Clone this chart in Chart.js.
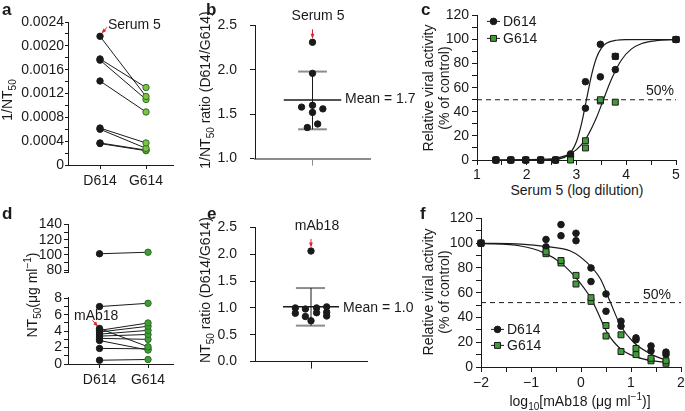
<!DOCTYPE html>
<html>
<head>
<meta charset="utf-8">
<script src="https://cdn.jsdelivr.net/npm/chart.js@4.4.0/dist/chart.umd.min.js"></script>
<style>
  body { margin: 0; width: 685px; height: 411px; background: #fff; position: relative; overflow: hidden;
         font-family: "Liberation Sans", Arial, sans-serif; color: #1a1a1a; }
  canvas { position: absolute; z-index: 1; }
  .t { position: absolute; white-space: nowrap; font-size: 14px; line-height: 1; z-index: 2; }
  .lab { font-weight: bold; font-size: 17px; }
  .rot { transform: translate(-50%, -50%) rotate(-90deg); }
  .mid { transform: translateY(-50%); }
  .ctr { transform: translate(-50%, -50%); }
  sub, sup { font-size: 10px; }
</style>
</head>
<body>
<div class="t lab" style="left:2px;top:1px">a</div>
<div class="t lab" style="left:206px;top:1px">b</div>
<div class="t lab" style="left:421px;top:1px">c</div>
<div class="t lab" style="left:2px;top:205px">d</div>
<div class="t lab" style="left:207px;top:205px">e</div>
<div class="t lab" style="left:420px;top:205px">f</div>

<div class="t rot" style="left:9px;top:100px">1/NT<sub>50</sub></div>
<div class="t rot" style="left:207px;top:90px">1/NT<sub>50</sub> ratio (D614/G614)</div>
<div class="t rot" style="left:428px;top:88px">Relative viral activity</div>
<div class="t rot" style="left:444px;top:88px">(% of control)</div>
<div class="t ctr" style="left:577px;top:190px">Serum 5 (log dilution)</div>

<div class="t rot" style="left:33px;top:295px">NT<sub>50</sub>(μg ml<sup>−1</sup>)</div>
<div class="t rot" style="left:207px;top:290px">NT<sub>50</sub> ratio (D614/G614)</div>
<div class="t rot" style="left:428px;top:292px">Relative viral activity</div>
<div class="t rot" style="left:444px;top:292px">(% of control)</div>
<div class="t ctr" style="left:580px;top:402px">log<sub>10</sub>[mAb18 (μg ml<sup>−1</sup>)]</div>

<div class="t mid" style="left:108px;top:24px">Serum 5</div>
<div class="t ctr" style="left:318px;top:15px">Serum 5</div>
<div class="t mid" style="left:345px;top:98px">Mean = 1.7</div>
<div class="t mid" style="left:646px;top:90px">50%</div>
<div class="t mid" style="left:74px;top:315px">mAb18</div>
<div class="t ctr" style="left:317px;top:225px">mAb18</div>
<div class="t mid" style="left:343px;top:307px">Mean = 1.0</div>
<div class="t mid" style="left:643px;top:294px">50%</div>

<script>
// ---- data ----
// a: 1/NT50 per serum
var aD614 = [0.00216, 0.00178, 0.00176, 0.00141, 0.00062, 0.00060, 0.00037, 0.00036];
var aG614 = [0.00115, 0.00130, 0.00110, 0.00089, 0.00037, 0.00028, 0.00025, 0.00024];

// b: ratio D614/G614
var bRatio = [2.31, 1.96, 1.58, 1.60, 1.52, 1.56, 1.39, 1.35];
var bSpread = [0, 0, -0.19, 0, 0, 0.18, 0.09, -0.09];
var bMean = 1.66, bLow = 1.33, bHigh = 1.98;

// c: serum 5 neutralisation
var cDil = [1.38, 1.68, 1.98, 2.28, 2.58, 2.88, 3.18, 3.48, 3.78, 5.0];
var cD614a = [0, 0, 0, 0, 0, 5, 65, 96, 75, 100];
var cD614b = [0, 0, 0, 0, 0, 3, 43, 69, 86, 100];
var cG614a = [0, 0, 0, 0, 0, 0, 16, 50, 48, 100];
var cG614b = [0, 0, 0, 0, 0, 3, 10, 49, 86, 100];
var cFitDx = [1.38, 2.4, 2.67, 2.8, 2.9, 3.0, 3.1, 3.2, 3.3, 3.4, 3.5, 3.6, 3.8, 4.0, 5.0];
var cFitDy = [0, 0.1, 1.1, 3.2, 7.2, 15.4, 30, 50, 70, 84.6, 92.8, 96.8, 99.4, 99.9, 100];
var cFitGx = [1.38, 2.4, 2.6, 2.8, 3.0, 3.2, 3.4, 3.54, 3.7, 3.9, 4.1, 4.3, 4.6, 5.0];
var cFitGy = [0, 0.7, 1.6, 3.8, 8.6, 18.4, 35, 50, 66.8, 82.8, 92, 96.5, 99, 99.8];
var cHalf = 50;

// d: NT50 (ug/ml) per antibody
var dD614Top = [101.5], dG614Top = [103.5];
var dD614 = [7.0, 4.33, 4.1, 3.9, 3.64, 3.4, 3.13, 2.86, 1.9, 0.46];
var dG614 = [7.4, 2.1, 5.0, 4.6, 4.1, 3.6, 3.0, 1.7, 1.85, 0.55];

// e: ratio D614/G614
var eRatio = [2.06, 1.00, 0.98, 1.00, 1.02, 0.90, 0.91, 0.92, 0.84, 0.85, 0.76];
var eSpread = [0, -0.28, -0.10, 0.10, 0.28, -0.28, 0.10, 0.28, -0.10, 0.28, 0];
var eMean = 1.02, eLow = 0.67, eHigh = 1.37;

// f: mAb18 neutralisation
var fDose = [-2, -0.7, -0.4, -0.1, 0.2, 0.5, 0.8, 1.1, 1.4, 1.7];
var fD614a = [100, 103, 115, 108, 80, 59, 37, 23.5, 17, 12];
var fD614b = [100, 97, 106, 102, 69, 45, 33, 22, 13, 10];
var fG614a = [100, 93, 86, 74, 56, 33.5, 26, 15, 7, 5];
var fG614b = [100, 91.5, 84, 67, 53, 25, 12.5, 10, 5, 3];
var fFitDx = [-2, -1.2, -0.68, -0.21, 0.12, 0.39, 0.59, 0.79, 1.05, 1.45, 1.7];
var fFitDy = [99.9, 99.3, 97.2, 93.7, 84.3, 71, 52, 33.5, 20, 9.4, 5.6];
var fFitGx = [-2, -1.21, -0.75, -0.41, -0.08, 0.19, 0.32, 0.52, 0.79, 1.12, 1.4, 1.7];
var fFitGy = [99.8, 97.7, 92.4, 84.3, 71, 56, 45.5, 28, 14.8, 8, 5.2, 3.8];
var fHalf = 52;

var catLabels = ['D614', 'G614'];

// ---- styling ----
var FONT = '"Liberation Sans", Arial, sans-serif';
var FS = 14;
var INK = '#1a1a1a';
var GREEN = '#3f9c38';
var LIGHTGREEN = '#7dc247';
var GREENEDGE = '#2f6d22';
var GREY = '#8c8c8c';
var RED = '#e3202a';

function addCanvas(l, t, r, b, yw, xh, pt, pr) {
	var c = document.createElement('canvas');
	var w = yw + (r - l) + pr, h = pt + (b - t) + xh;
	c.width = w; c.height = h;
	c.style.left = (l - yw) + 'px';
	c.style.top = (t - pt) + 'px';
	c.style.width = w + 'px';
	c.style.height = h + 'px';
	document.body.appendChild(c);
	return c;
}

function axis(min, max, majors, minors, fmt, opt) {
	var all = majors.concat(minors);
	var s = {
		type: 'linear', min: min, max: max, display: opt.display === undefined ? true : opt.display,
		afterBuildTicks: function (sc) { sc.ticks = all.map(function (v) { return { value: v }; }); },
		grid: { display: true, drawOnChartArea: false, drawTicks: true, tickLength: opt.tl || 4,
			color: opt.color || INK, tickColor: opt.color || INK, tickWidth: 1 },
		border: { display: true, color: opt.color || INK, width: opt.bw || 1 },
		ticks: {
			autoSkip: false, maxRotation: 0, padding: opt.pad === undefined ? 2 : opt.pad, color: INK,
			font: { family: FONT, size: FS },
			callback: function (v) {
				for (var i = 0; i < majors.length; i++) if (Math.abs(majors[i] - v) < 1e-9) return fmt(v);
				return '';
			}
		}
	};
	if (opt.w !== undefined) s.afterFit = function (sc) { sc.width = opt.w; };
	if (opt.h !== undefined) s.afterFit = function (sc) { sc.height = opt.h; };
	return s;
}

function pts(xs, ys) { return xs.map(function (x, i) { return { x: x, y: ys[i] }; }); }

function arrowPlugin(ds, idx, from, to) {
	return {
		id: 'arrow' + ds,
		afterDatasetsDraw: function (chart) {
			var el = chart.getDatasetMeta(ds).data[idx];
			var ctx = chart.ctx;
			var x1 = el.x + from[0], y1 = el.y + from[1], x2 = el.x + to[0], y2 = el.y + to[1];
			var ang = Math.atan2(y2 - y1, x2 - x1);
			ctx.save();
			ctx.strokeStyle = RED; ctx.fillStyle = RED; ctx.lineWidth = 1;
			ctx.beginPath(); ctx.moveTo(x1, y1); ctx.lineTo(x2, y2); ctx.stroke();
			ctx.beginPath();
			ctx.moveTo(x2 + Math.cos(ang) * 1.5, y2 + Math.sin(ang) * 1.5);
			ctx.lineTo(x2 - Math.cos(ang - 0.5) * 4, y2 - Math.sin(ang - 0.5) * 4);
			ctx.lineTo(x2 - Math.cos(ang + 0.5) * 4, y2 - Math.sin(ang + 0.5) * 4);
			ctx.closePath(); ctx.fill();
			ctx.restore();
		}
	};
}

function legendPlugin(dx, dy, gap, items) {
	return {
		id: 'lg',
		afterDraw: function (chart) {
			var ctx = chart.ctx, a = chart.chartArea;
			ctx.save();
			items.forEach(function (it, i) {
				var x = a.left + dx, y = a.top + dy + i * gap;
				ctx.strokeStyle = INK; ctx.lineWidth = 1;
				ctx.beginPath(); ctx.moveTo(x, y); ctx.lineTo(x + 13, y); ctx.stroke();
				ctx.fillStyle = it.fill; ctx.strokeStyle = INK;
				Chart.helpers.drawPoint(ctx, { pointStyle: it.style, radius: it.r, borderWidth: 1, rotation: 0 }, x + 6.5, y);
				ctx.fillStyle = INK;
				ctx.font = FS + 'px ' + FONT;
				ctx.textBaseline = 'middle';
				ctx.fillText(it.text, x + 16, y + 0.5);
			});
			ctx.restore();
		}
	};
}

var base = {
	responsive: false, animation: false, events: [],
	plugins: { legend: { display: false }, tooltip: { enabled: false } }
};
function opts(scales, padTop, padRight) {
	return Object.assign({}, base, { layout: { padding: { top: padTop, right: padRight, left: 0, bottom: 0 } }, scales: scales });
}

function fmtFixed(n) { return function (v) { return v.toFixed(n); }; }
function fmtInt(v) { return String(Math.round(v)); }
function fmtCat(v) { return catLabels[Math.round(v) - 1]; }

// ---- a ----
(function () {
	var cv = addCanvas(68, 22, 173, 165, 68, 30, 10, 10);
	var sets = aD614.map(function (d, i) {
		return { data: [{ x: 1, y: d }, { x: 2, y: aG614[i] }], borderColor: INK, borderWidth: 1,
			pointRadius: 3.2, pointBackgroundColor: [INK, LIGHTGREEN], pointBorderColor: [INK, GREENEDGE],
			pointBorderWidth: 1, clip: false };
	});
	new Chart(cv, {
		type: 'line', data: { datasets: sets },
		options: opts({
			x: axis(0.304, 2.587, [1, 2], [], fmtCat, { h: 30, tl: 4, pad: 4 }),
			y: axis(0, 0.0024, [0, 0.0004, 0.0008, 0.0012, 0.0016, 0.0020, 0.0024],
				[0.0002, 0.0006, 0.0010, 0.0014, 0.0018, 0.0022],
				function (v) { return v === 0 ? '0' : v.toFixed(4); }, { w: 68, tl: 3, pad: 1 })
		}, 10, 10),
		plugins: [arrowPlugin(0, 0, [7, -9], [2.5, -4])]
	});
})();

// ---- b ----
(function () {
	var cv = addCanvas(255, 14, 370, 165, 50, 15, 10, 10);
	new Chart(cv, {
		type: 'line',
		data: { datasets: [
			{ data: pts(bSpread, bRatio), showLine: false, pointRadius: 3.2, pointBackgroundColor: INK, pointBorderColor: INK, clip: false },
			{ data: [{ x: -0.5, y: bMean }, { x: 0.5, y: bMean }], borderColor: INK, borderWidth: 1.5, pointRadius: 0, clip: false },
			{ data: [{ x: 0, y: bLow }, { x: 0, y: bHigh }], borderColor: INK, borderWidth: 1, pointRadius: 0, clip: false },
			{ data: [{ x: -0.25, y: bLow }, { x: 0.25, y: bLow }], borderColor: GREY, borderWidth: 2, pointRadius: 0, clip: false },
			{ data: [{ x: -0.25, y: bHigh }, { x: 0.25, y: bHigh }], borderColor: GREY, borderWidth: 2, pointRadius: 0, clip: false }
		] },
		options: opts({
			x: axis(-1, 1, [0], [], function () { return ''; }, { h: 15, tl: 7, color: GREY, bw: 2 }),
			y: axis(1, 2.5, [1, 1.5, 2, 2.5], [], fmtFixed(1), { w: 50, tl: 5, pad: 13 })
		}, 10, 10),
		plugins: [arrowPlugin(0, 0, [0, -13], [0, -5])]
	});
})();

// ---- c ----
(function () {
	var cv = addCanvas(477, 14, 676, 160, 45, 20, 10, 10);
	function gFill(ys) {
		return ys.map(function (y, i) {
			var hit = Math.abs(y - cD614a[i]) < 2 || Math.abs(y - cD614b[i]) < 2;
			return hit ? INK : GREEN;
		});
	}
	new Chart(cv, {
		type: 'line',
		data: { datasets: [
			{ data: pts(cDil, cG614a), showLine: false, pointStyle: 'rect', pointRadius: 4.2, pointBackgroundColor: gFill(cG614a), pointBorderColor: INK, pointBorderWidth: 1, clip: false },
			{ data: pts(cDil, cG614b), showLine: false, pointStyle: 'rect', pointRadius: 4.2, pointBackgroundColor: gFill(cG614b), pointBorderColor: INK, pointBorderWidth: 1, clip: false },
			{ data: pts(cDil, cD614a), showLine: false, pointRadius: 3.3, pointBackgroundColor: INK, pointBorderColor: INK, clip: false },
			{ data: pts(cDil, cD614b), showLine: false, pointRadius: 3.3, pointBackgroundColor: INK, pointBorderColor: INK, clip: false },
			{ data: pts(cFitDx, cFitDy), borderColor: INK, borderWidth: 1.2, pointRadius: 0, cubicInterpolationMode: 'monotone', clip: false },
			{ data: pts(cFitGx, cFitGy), borderColor: INK, borderWidth: 1.2, pointRadius: 0, cubicInterpolationMode: 'monotone', clip: false },
			{ data: [{ x: 1, y: cHalf }, { x: 5, y: cHalf }], borderColor: INK, borderWidth: 1, borderDash: [5, 4], pointRadius: 0 }
		] },
		options: opts({
			x: axis(1, 5, [1, 2, 3, 4, 5], [1.5, 2.5, 3.5, 4.5], fmtInt, { h: 20, tl: 5, pad: 2 }),
			y: axis(0, 120, [0, 20, 40, 60, 80, 100, 120], [10, 30, 50, 70, 90, 110], fmtInt, { w: 45, tl: 5, pad: 3 })
		}, 10, 10),
		plugins: [legendPlugin(10, 6, 17, [
			{ text: 'D614', style: 'circle', r: 3.3, fill: INK },
			{ text: 'G614', style: 'rect', r: 4.2, fill: GREEN }
		])]
	});
})();

// ---- d (broken axis: two stacked charts) ----
(function () {
	var cvTop = addCanvas(68, 224, 173, 283, 68, 0, 10, 10);
	new Chart(cvTop, {
		type: 'line',
		data: { datasets: [{ data: [{ x: 1, y: dD614Top[0] }, { x: 2, y: dG614Top[0] }], borderColor: INK, borderWidth: 1,
			pointRadius: 3.2, pointBackgroundColor: [INK, GREEN], pointBorderColor: [INK, GREENEDGE], clip: false }] },
		options: opts({
			x: axis(0.35, 2.515, [1, 2], [], fmtCat, { display: false }),
			y: axis(76.8, 140, [80, 100, 120, 140], [90, 110, 130, 76.8], fmtInt, { w: 68, tl: 4, pad: 2 })
		}, 10, 10)
	});

	var cv = addCanvas(68, 295, 173, 364, 68, 30, 8, 10);
	var sets = dD614.map(function (d, i) {
		return { data: [{ x: 1, y: d }, { x: 2, y: dG614[i] }], borderColor: INK, borderWidth: 1,
			pointRadius: 3.2, pointBackgroundColor: [INK, GREEN], pointBorderColor: [INK, GREENEDGE],
			pointBorderWidth: 1, clip: false };
	});
	new Chart(cv, {
		type: 'line', data: { datasets: sets },
		options: opts({
			x: axis(0.35, 2.515, [1, 2], [], fmtCat, { h: 30, tl: 4, pad: 4 }),
			y: axis(0, 8.118, [0, 2, 4, 6, 8], [1, 3, 5, 7], fmtInt, { w: 68, tl: 4, pad: 2 })
		}, 8, 10),
		plugins: [arrowPlugin(1, 0, [-7, -8], [-2.5, -3])]
	});
})();

// ---- e ----
(function () {
	var cv = addCanvas(255, 216, 367, 368, 50, 15, 10, 10);
	new Chart(cv, {
		type: 'line',
		data: { datasets: [
			{ data: pts(eSpread, eRatio), showLine: false, pointRadius: 3.2, pointBackgroundColor: INK, pointBorderColor: INK, clip: false },
			{ data: [{ x: -0.5, y: eMean }, { x: 0.5, y: eMean }], borderColor: INK, borderWidth: 1.5, pointRadius: 0, clip: false },
			{ data: [{ x: 0, y: eLow }, { x: 0, y: eHigh }], borderColor: INK, borderWidth: 1, pointRadius: 0, clip: false },
			{ data: [{ x: -0.27, y: eLow }, { x: 0.25, y: eLow }], borderColor: GREY, borderWidth: 2, pointRadius: 0, clip: false },
			{ data: [{ x: -0.27, y: eHigh }, { x: 0.25, y: eHigh }], borderColor: GREY, borderWidth: 2, pointRadius: 0, clip: false }
		] },
		options: opts({
			x: axis(-1, 1, [0], [], function () { return ''; }, { h: 15, tl: 7 }),
			y: axis(0, 2.5, [0, 0.5, 1, 1.5, 2, 2.5], [], fmtFixed(1), { w: 50, tl: 5, pad: 13 })
		}, 10, 10),
		plugins: [arrowPlugin(0, 0, [0, -12], [0, -5])]
	});
})();

// ---- f ----
(function () {
	var cv = addCanvas(481, 217, 681, 367, 45, 25, 10, 10);
	function gFill(ys) {
		return ys.map(function (y, i) {
			var hit = Math.abs(y - fD614a[i]) < 1 && Math.abs(y - fD614b[i]) < 1;
			return hit ? INK : GREEN;
		});
	}
	new Chart(cv, {
		type: 'line',
		data: { datasets: [
			{ data: pts(fDose, fG614a), showLine: false, pointStyle: 'rect', pointRadius: 4.2, pointBackgroundColor: gFill(fG614a), pointBorderColor: INK, pointBorderWidth: 1, clip: false },
			{ data: pts(fDose, fG614b), showLine: false, pointStyle: 'rect', pointRadius: 4.2, pointBackgroundColor: gFill(fG614b), pointBorderColor: INK, pointBorderWidth: 1, clip: false },
			{ data: pts(fDose, fD614a), showLine: false, pointRadius: 3.3, pointBackgroundColor: INK, pointBorderColor: INK, clip: false },
			{ data: pts(fDose, fD614b), showLine: false, pointRadius: 3.3, pointBackgroundColor: INK, pointBorderColor: INK, clip: false },
			{ data: pts(fFitDx, fFitDy), borderColor: INK, borderWidth: 1.2, pointRadius: 0, cubicInterpolationMode: 'monotone', clip: false },
			{ data: pts(fFitGx, fFitGy), borderColor: INK, borderWidth: 1.2, pointRadius: 0, cubicInterpolationMode: 'monotone', clip: false },
			{ data: [{ x: -2, y: fHalf }, { x: 2, y: fHalf }], borderColor: INK, borderWidth: 1, borderDash: [5, 4], pointRadius: 0 }
		] },
		options: opts({
			x: axis(-2, 2, [-2, -1, 0, 1, 2], [-1.5, -0.5, 0.5, 1.5], function (v) { return v < 0 ? '\u2212' + Math.abs(v) : String(v); }, { h: 25, tl: 5, pad: 3 }),
			y: axis(0, 120, [0, 20, 40, 60, 80, 100, 120], [10, 30, 50, 70, 90, 110], fmtInt, { w: 45, tl: 5, pad: 3 })
		}, 10, 10),
		plugins: [legendPlugin(10, 111, 16, [
			{ text: 'D614', style: 'circle', r: 3.3, fill: INK },
			{ text: 'G614', style: 'rect', r: 4.2, fill: GREEN }
		])]
	});
})();
</script>
</body>
</html>
